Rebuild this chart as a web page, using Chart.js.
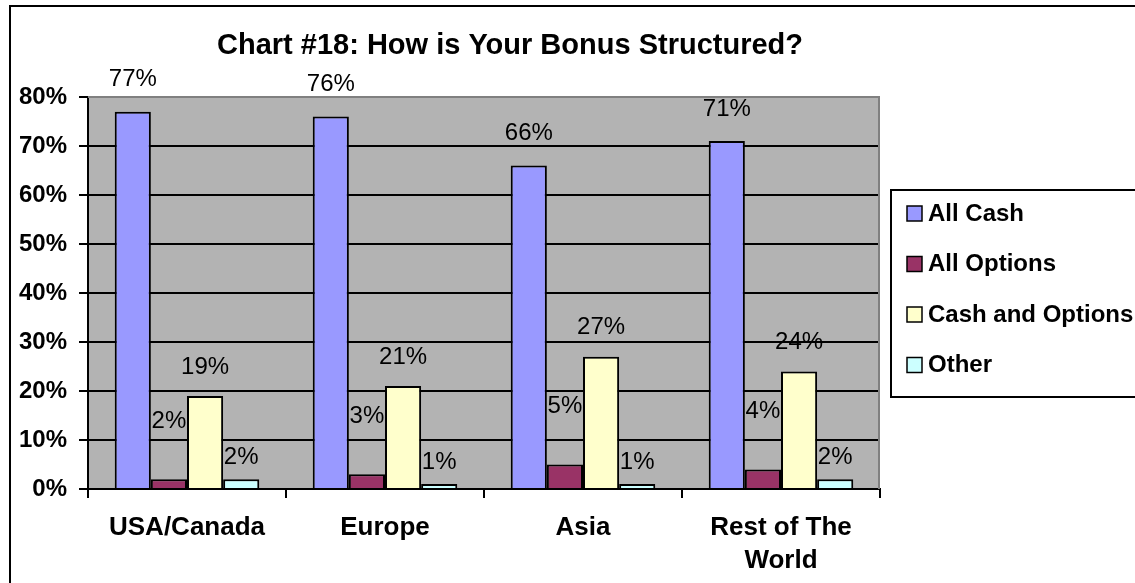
<!DOCTYPE html>
<html>
<head>
<meta charset="utf-8">
<script src="https://cdn.jsdelivr.net/npm/chart.js@4/dist/chart.umd.min.js"></script>
<style>
  html, body { margin: 0; padding: 0; background: #fff; }
  #wrap { position: relative; width: 1135px; height: 583px; }
</style>
</head>
<body>
<div id="wrap"><canvas id="bonus"></canvas></div>
<script>
// --- data ---
const categories = ['USA/Canada', 'Europe', 'Asia', ['Rest of The', 'World']];
const seriesNames = ['All Cash', 'All Options', 'Cash and Options', 'Other'];
const allCash = [77, 76, 66, 71];
const allOptions = [2, 3, 5, 4];
const cashAndOptions = [19, 21, 27, 24];
const other = [2, 1, 1, 2];
const yTicks = [0, 10, 20, 30, 40, 50, 60, 70, 80];

const FONT = '"Liberation Sans", Arial, sans-serif';
const colors = ['#9999FF', '#993366', '#FFFFCC', '#CCFFFF'];
// how far above the bar top each series' label sits (px)
const labelLift = [32, 58, 29, 22];

const plotBg = {
  id: 'plotBg',
  beforeDraw(chart) {
    const { ctx, chartArea: a } = chart;
    ctx.save();
    ctx.fillStyle = '#FFFFFF';
    ctx.fillRect(0, 0, chart.width, chart.height);
    ctx.strokeStyle = '#000';
    ctx.lineWidth = 2;
    ctx.strokeRect(10, 6, 1300, 700);
    ctx.fillStyle = '#B3B3B3';
    ctx.fillRect(a.left, a.top, a.right - a.left, a.bottom - a.top);
    ctx.restore();
  },
  beforeDatasetsDraw(chart) {
    const { ctx, chartArea: a } = chart;
    ctx.save();
    ctx.strokeStyle = '#808080';
    ctx.lineWidth = 2;
    ctx.beginPath();
    ctx.moveTo(a.left, a.top);
    ctx.lineTo(a.right - 1, a.top);
    ctx.lineTo(a.right - 1, a.bottom);
    ctx.stroke();
    ctx.restore();
  },
};

const extras = {
  id: 'extras',
  afterDraw(chart) {
    const { ctx } = chart;
    ctx.save();
    // title
    ctx.fillStyle = '#000';
    ctx.font = 'bold 29px ' + FONT;
    ctx.textAlign = 'center';
    ctx.textBaseline = 'middle';
    ctx.fillText('Chart #18: How is Your Bonus Structured?', 510, 46);

    // value labels
    ctx.font = '24px ' + FONT;
    chart.data.datasets.forEach((ds, i) => {
      chart.getDatasetMeta(i).data.forEach((bar, j) => {
        ctx.fillText(ds.data[j] + '%', bar.x, bar.y - labelLift[i]);
      });
    });

    // legend box
    ctx.strokeStyle = '#000';
    ctx.lineWidth = 2;
    ctx.fillStyle = '#fff';
    ctx.fillRect(891, 190, 260, 207);
    ctx.strokeRect(891, 190, 260, 207);
    ctx.font = 'bold 24px ' + FONT;
    ctx.textAlign = 'left';
    chart.data.datasets.forEach((ds, i) => {
      const cy = 213 + i * 50.5;
      ctx.fillStyle = ds.backgroundColor;
      ctx.fillRect(907, cy - 7, 15, 15);
      ctx.lineWidth = 1.5;
      ctx.strokeRect(907, cy - 7, 15, 15);
      ctx.fillStyle = '#000';
      ctx.fillText(ds.label, 928, cy + 1);
    });
    ctx.restore();
  },
};

const seriesData = [allCash, allOptions, cashAndOptions, other];

new Chart(document.getElementById('bonus'), {
  type: 'bar',
  data: {
    labels: categories,
    datasets: seriesNames.map((name, i) => ({
      label: name,
      data: seriesData[i],
      backgroundColor: colors[i],
      borderColor: '#000',
      borderWidth: 2,
      borderSkipped: 'bottom',
      barPercentage: 1.0,
      categoryPercentage: 0.73,
    })),
  },
  options: {
    responsive: true,
    maintainAspectRatio: false,
    animation: false,
    layout: { padding: { left: 0, top: 97, right: 255, bottom: 0 } },
    plugins: {
      legend: { display: false },
      title: { display: false },
      tooltip: { enabled: false },
    },
    scales: {
      x: {
        afterFit(scale) { scale.height = 94; },
        grid: {
          offset: true,
          drawOnChartArea: false,
          color: '#000',
          lineWidth: 2,
          tickLength: 9,
        },
        border: { display: true, color: '#000', width: 2 },
        ticks: {
          color: '#000',
          padding: 14,
          font: { family: FONT, size: 26, weight: 'bold', lineHeight: 1.25 },
        },
      },
      y: {
        min: 0,
        max: 80,
        afterFit(scale) { scale.width = 88; },
        afterBuildTicks(scale) { scale.ticks = yTicks.map(v => ({ value: v })); },
        grid: {
          color: ctx => (ctx.tick && ctx.tick.value === 80 ? '#808080' : '#000'),
          tickColor: '#000',
          lineWidth: 2,
          tickLength: 9,
        },
        border: { display: true, color: '#000', width: 2 },
        ticks: {
          color: '#000',
          padding: 12,
          callback: v => v + '%',
          font: { family: FONT, size: 24, weight: 'bold' },
        },
      },
    },
  },
  plugins: [plotBg, extras],
});
</script>
</body>
</html>
